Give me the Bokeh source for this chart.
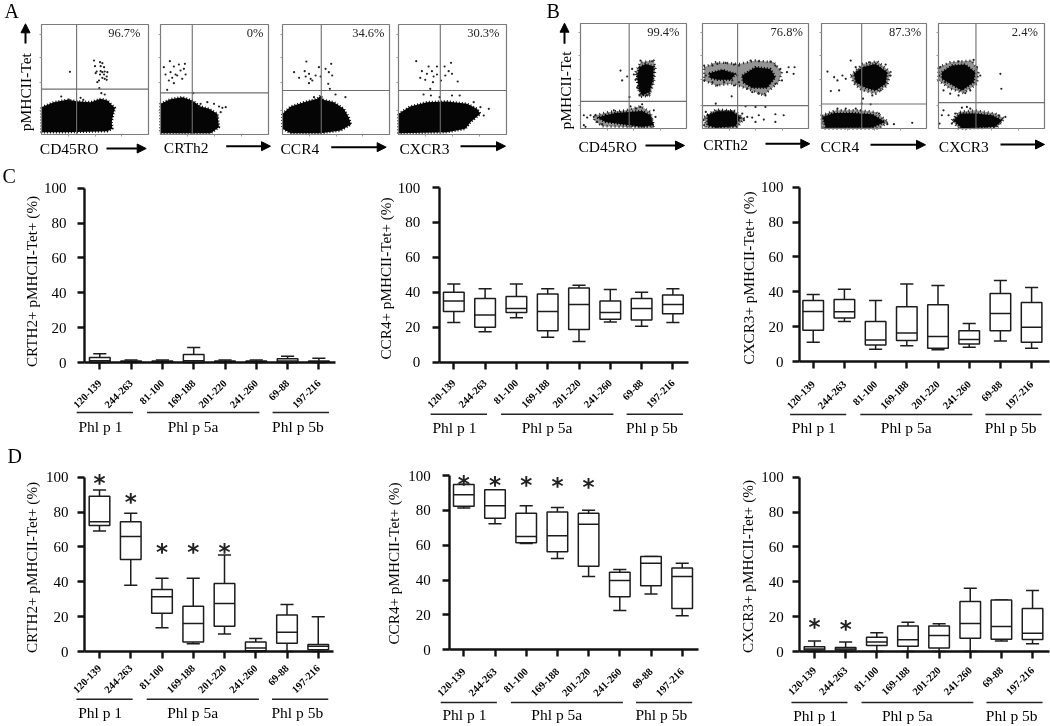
from math import pi
from bokeh.embed import file_html
from bokeh.resources import INLINE
from bokeh.core.properties import value
from bokeh.models import Column, Row, Arrow, NormalHead, FixedTicker, Range1d
from bokeh.plotting import figure

SERIF = "Liberation Serif"
BLUR = {"filter": "blur(0.45px)"}

# ---------- box-plot data: (low, q1, median, q3, high) per peptide ----------
peptides = ["120-139", "244-263", "81-100", "169-188", "201-220", "241-260", "69-88", "197-216"]
groups = ["Phl p 1", "Phl p 5a", "Phl p 5b"]

c_crth2_low = [0, 0, 0, 0, 0, 0, 0, 0]
c_crth2_q1 = [0, 0.2, 0.2, 0, 0.2, 0.2, 0, 0.1]
c_crth2_med = [1, 0.5, 0.5, 1, 0.5, 0.5, 0.8, 0.4]
c_crth2_q3 = [2.9, 0.8, 0.8, 4.6, 0.8, 0.8, 2.2, 0.8]
c_crth2_high = [5, 1.5, 1.5, 8.6, 1.5, 1.5, 3.6, 2.5]

c_ccr4_low = [22.7, 17.4, 25.4, 14.3, 11.8, 23, 20.6, 22.7]
c_ccr4_q1 = [29, 20, 28.4, 18, 18.7, 24.6, 24.2, 27.7]
c_ccr4_med = [35, 27, 30.7, 29, 33, 28.4, 30.7, 33]
c_ccr4_q3 = [40, 36.5, 37.6, 39, 42.5, 35, 36.5, 38.5]
c_ccr4_high = [44.7, 42, 44.7, 42, 44, 41.6, 40, 42]

c_cxcr3_low = [11, 23, 7, 9, 6.7, 8.2, 11.7, 7.6]
c_cxcr3_q1 = [18, 25, 9.4, 12, 7.6, 10, 17.6, 11]
c_cxcr3_med = [28.7, 28.5, 12.4, 16.3, 14.3, 12.6, 27.5, 19.7]
c_cxcr3_q3 = [35, 35.6, 23, 31.4, 32.5, 17.6, 39, 33.8]
c_cxcr3_high = [38.4, 41.5, 35, 44.5, 43.6, 21.8, 46.5, 42.4]

d_crth2_low = [69.2, 38, 13.6, 4.4, 10, 0, 0, 0]
d_crth2_q1 = [72.3, 52.8, 22, 5.4, 14.5, 0.4, 4.8, 1]
d_crth2_med = [74.4, 66, 31.4, 16, 27.5, 2, 11, 3]
d_crth2_q3 = [89, 74.4, 35.6, 26, 39, 5.4, 21, 4]
d_crth2_high = [92.7, 79.3, 42, 42, 55.4, 7.5, 27, 20]

d_ccr4_low = [81.3, 72.3, 61, 52.4, 42, 22.6, 32, 19.5]
d_ccr4_q1 = [82.4, 75.5, 61.4, 56.2, 48, 30.4, 36.7, 23.7]
d_ccr4_med = [89, 82.6, 65, 65.4, 72, 39.8, 49.7, 42]
d_ccr4_q3 = [94.8, 91.8, 78.4, 79, 78.4, 44.5, 53.5, 47]
d_ccr4_high = [95, 91.8, 82.6, 81.6, 80, 46, 53.5, 49.7]

d_cxcr3_low = [0, 0, 0, 0, 0, 0, 6, 4.4]
d_cxcr3_q1 = [0.8, 0.8, 3.4, 3, 2, 7.6, 7, 6.9]
d_cxcr3_med = [1.5, 1.5, 5.5, 6.7, 9.2, 16, 14.3, 10.5]
d_cxcr3_q3 = [2.7, 2.3, 8.2, 14.7, 14.7, 28.7, 29.6, 24.7]
d_cxcr3_high = [6, 5.5, 10.7, 16.8, 15.9, 36.3, 29.6, 35]

d_crth2_star_x = [0, 1, 2, 3, 4]
d_crth2_star_y = [99.6, 88.5, 59.8, 59.8, 60]
d_ccr4_star_x = [0, 1, 2, 3, 4]
d_ccr4_star_y = [98, 97.5, 97.5, 97, 96]
d_cxcr3_star_x = [0, 1]
d_cxcr3_star_y = [16.8, 16]

# ---------- flow cytometry data (channels): sparse events, dense regions, speckled halos ----------
a1_x = [157,175,182,177,160,187,165,177,182,189,197,162,175,187,195,182,189,172,195,167,85,173,179,189,117,125,59,82]
a1_y = [222,217,214,205,205,202,189,190,187,189,187,184,180,180,174,170,167,162,164,157,188,139,124,120,110,104,114,105]
a1_blob_x = [0,37,77,112,147,177,197,212,220,215,210,212,197,77,0]
a1_blob_y = [82,97,104,99,97,107,102,87,80,62,37,17,10,7,7]

a2_x = [28,10,40,55,73,30,45,60,70,15,35,50,75,65,25,40,20,98,185,195,175,160,140,120,180,170]
a2_y = [220,202,204,210,212,187,180,192,197,180,170,177,180,167,162,154,134,124,80,82,84,92,97,92,67,52]
a2_blob_x = [0,30,65,95,120,145,170,175,150,0]
a2_blob_y = [92,106,112,102,84,77,62,22,4,4]

a3_x = [72,35,67,80,110,147,130,140,150,70,85,100,115,80,90,138,143,160,190,95,50]
a3_y = [219,187,190,182,202,212,197,187,177,174,167,177,174,154,162,152,137,120,112,112,170]
a3_blob_x = [0,25,65,105,115,123,155,185,200,207,175,115,25,0]
a3_blob_y = [62,84,97,107,117,104,97,77,52,30,12,4,4,17]

a4_x = [53,157,90,115,138,70,100,150,85,115,160,65,80,105,140,103,127,177,95,75,97,123,160,183,245,270,225,255]
a4_y = [220,215,204,204,204,190,190,190,182,180,182,170,164,174,177,157,162,159,137,120,117,112,117,117,82,77,97,57]
a4_blob_x = [0,35,85,145,205,235,245,215,200,145,0]
a4_blob_y = [62,84,97,99,92,77,62,37,17,7,4]

b1_x = [120,155,160,180,215,125,140,165,170,177,200,207,147,150,180,185,167,100,10,20,30,40,10,15,50,65,225,220]
b1_y = [175,180,163,205,203,145,157,147,123,100,100,105,95,67,65,73,60,55,40,33,40,35,10,5,20,13,35,55]
b1_up_x = [177,195,220,217,207,185,175,170]
b1_up_y = [185,195,187,145,110,100,120,160]
b1_low_x = [75,105,145,185,210,220,185,125,75,50]
b1_low_y = [40,47,50,53,40,10,5,13,20,33]
b1_hu_x = [165,180,220,225,220,207,180,173]
b1_hu_y = [170,200,205,185,140,100,95,123]
b1_hl_x = [45,85,135,180,210,220,65,40]
b1_hl_y = [40,50,55,67,50,2,7,25]

b2_x = [5,10,5,30,45,70,95,110,145,170,205,220,235,260,278,255,275,240,220,30,45,65,90,105,110,95,135,170,190,150,88,40,130,160,190,120,135,150,170,185,160,220,245,220,3,5,125,10]
b2_y = [190,160,145,190,195,198,193,190,205,203,202,190,180,185,185,170,165,145,135,140,130,140,145,160,140,130,120,105,100,110,97,75,67,65,65,45,35,33,40,27,20,43,40,20,25,10,25,50]
b2_right_x = [120,160,205,220,195,150,122]
b2_right_y = [160,185,180,155,123,123,140]
b2_left_x = [20,60,100,85,45,22]
b2_left_y = [167,177,165,147,147,153]
b2_low_x = [15,45,90,115,100,40,15]
b2_low_y = [40,52,52,33,7,2,10]
b2_hu_x = [5,40,110,160,215,240,230,185,135,90,40,5]
b2_hu_y = [185,200,195,205,200,170,140,100,120,135,130,145]
b2_hl_x = [5,40,95,125,105,10]
b2_hl_y = [35,57,55,30,3,2]

b3_x = [88,18,38,48,63,73,53,28,103,143,193,208,178,153,125,121,148,118,103,73,48,198,218,273,173]
b3_y = [205,172,155,145,160,150,115,113,185,200,193,160,115,100,90,75,73,55,60,60,60,13,13,17,45]
b3_up_x = [98,123,163,198,193,163,133,103]
b3_up_y = [165,185,195,170,135,115,123,140]
b3_low_x = [3,38,93,153,191,153,13]
b3_low_y = [35,47,47,43,20,3,2]
b3_hu_x = [88,123,168,208,198,163,123,98]
b3_hu_y = [160,195,203,170,130,105,115,135]
b3_hl_x = [0,43,113,163,201,173,3]
b3_hl_y = [40,55,55,50,20,0,0]

b4_x = [5,2,20,15,35,60,80,95,105,60,115,125,185,188,15,10,30,3,85,70,95,50,200,180,40]
b4_y = [185,160,140,115,105,100,107,115,207,203,185,160,165,120,55,40,40,15,65,63,60,45,35,40,15]
b4_up_x = [10,40,80,110,105,70,35,10]
b4_up_y = [170,190,193,170,140,115,135,150]
b4_low_x = [45,65,110,160,190,170,70]
b4_low_y = [25,45,45,40,25,5,1]
b4_hu_x = [0,35,100,120,115,75,35,0]
b4_hu_y = [185,200,205,170,135,107,120,145]
b4_hl_x = [40,60,110,170,197,175,60]
b4_hl_y = [25,50,55,45,30,3,0]


def txt(p, x, y, s, size, align="left", angle=0, color="#000000", font=SERIF, **kw):
    p.text(x, y, text=s, text_font=value(font), text_font_size=size, text_color=color, text_align=align,
           text_baseline="middle", angle=angle, **kw)


def flow(region, frame_x, frame_y, w, h, gate_x, gate_y, ev_x, ev_y, blobs, xlabel, lab_xy, arrow, pct, pct_xy,
         ylab=None, letter=None, halos=()):
    rl, rr = region
    fl, fr = frame_x
    ft, fb = frame_y
    X = lambda px: (px - fl) / (fr - fl) * w
    Y = lambda py: (fb - py) / (fb - ft) * h
    p = figure(width=rr - rl, height=165, x_range=Range1d(X(rl), X(rr)), y_range=Range1d(Y(165), Y(0)),
               toolbar_location=None, output_backend="svg", min_border=0,
               min_border_left=0, min_border_right=0, min_border_top=0, min_border_bottom=0,
               background_fill_color="white", border_fill_color="white", styles=BLUR)
    p.grid.visible = False
    p.outline_line_color = None
    xt = [w * f for f in (0.25, 0.5, 0.75)]
    yt = [h * f for f in (0.22, 0.47, 0.7, 0.91)]
    xa = p.xaxis[0]
    ya = p.yaxis[0]
    xa.fixed_location = 0
    ya.fixed_location = 0
    xa.bounds = (0, w)
    ya.bounds = (0, h)
    xa.ticker = FixedTicker(ticks=xt)
    ya.ticker = FixedTicker(ticks=yt)
    xa.major_label_text_color = None
    ya.major_label_text_color = None
    xa.major_label_text_font_size = "1px"
    ya.major_label_text_font_size = "1px"
    for ax in (xa, ya):
        ax.axis_line_color = None
        ax.major_tick_line_color = "#9a9a9a"
        ax.major_tick_in = 0
        ax.major_tick_out = 2
        ax.minor_tick_line_color = None
    for hx, hy in halos:
        p.patch(hx, hy, fill_color="#3a3a3a", fill_alpha=0.55, line_color="#222222", line_width=2.5, line_dash="1 3")
    for bx, by in blobs:
        p.patch(bx, by, fill_color="#050505", line_color="#050505", line_width=2.5, line_dash="1 2")
    p.scatter(ev_x, ev_y, size=2.2, marker="circle", fill_color="#222222", line_color=None)
    p.quad(left=[0], right=[w], bottom=[0], top=[h], fill_color=None, line_color="#7a7a7a", line_width=1.2)
    p.segment([gate_x, 0], [0, gate_y], [gate_x, w], [h, gate_y], line_color="#6e6e6e", line_width=1.1)
    txt(p, [X(lab_xy[0])], [Y(lab_xy[1])], [xlabel], "15.5px")
    p.add_layout(Arrow(end=NormalHead(size=9, fill_color="#000000", line_color="#000000"),
                       x_start=X(arrow[0]), y_start=Y(arrow[2]), x_end=X(arrow[1]), y_end=Y(arrow[2]),
                       line_color="#000000", line_width=2))
    txt(p, [X(pct_xy[0])], [Y(pct_xy[1])], [pct], "12.5px", align="right", color="#222222")
    if ylab:
        lx, lyc, ax_, ay0, ay1 = ylab
        txt(p, [X(lx)], [Y(lyc)], ["pMHCII-Tet"], "15.5px", align="center", angle=pi / 2)
        p.add_layout(Arrow(end=NormalHead(size=9, fill_color="#000000", line_color="#000000"),
                           x_start=X(ax_), y_start=Y(ay0), x_end=X(ax_), y_end=Y(ay1),
                           line_color="#000000", line_width=2))
    if letter:
        txt(p, [X(letter[1])], [Y(letter[2])], [letter[0]], "20px")
    return p


def box(region_x, region_y, x0, dx, y0, y100, axis_x, x_right, low, q1, med, q3, high, title, title_xy,
        line_dy, lab_dy, standoff, ystand, stars=None, letter=None):
    rl, rr = region_x
    rt, rb = region_y
    k = (y0 - y100) / 100
    X = lambda px: (px - x0) / dx
    Y = lambda py: (y0 - py) / k
    p = figure(width=rr - rl, height=rb - rt, x_range=Range1d(X(rl), X(rr)), y_range=Range1d(Y(rb), Y(rt)),
               toolbar_location=None, output_backend="svg", min_border=0,
               min_border_left=0, min_border_right=0, min_border_top=0, min_border_bottom=0,
               background_fill_color="white", border_fill_color="white", styles=BLUR)
    p.outline_line_color = None
    p.grid.visible = False
    xs = list(range(len(peptides)))
    lw = 1.5
    col = "#1c1c1c"
    cap = 0.21
    half = 0.33
    p.segment(xs, low, xs, q1, line_color=col, line_width=lw)
    p.segment(xs, q3, xs, high, line_color=col, line_width=lw)
    p.segment([x - cap for x in xs], low, [x + cap for x in xs], low, line_color=col, line_width=lw)
    p.segment([x - cap for x in xs], high, [x + cap for x in xs], high, line_color=col, line_width=lw)
    p.quad(left=[x - half for x in xs], right=[x + half for x in xs], bottom=q1, top=q3,
           fill_color="white", line_color=col, line_width=lw)
    p.segment([x - half for x in xs], med, [x + half for x in xs], med, line_color=col, line_width=lw)

    xa = p.xaxis[0]
    ya = p.yaxis[0]
    xa.fixed_location = 0
    ya.fixed_location = X(axis_x)
    xa.bounds = (X(axis_x), X(x_right))
    ya.bounds = (0, 100)
    xa.ticker = FixedTicker(ticks=xs)
    ya.ticker = FixedTicker(ticks=[0, 20, 40, 60, 80, 100])
    xa.major_label_overrides = {i: s for i, s in enumerate(peptides)}
    xa.major_label_orientation = pi / 4
    xa.major_label_text_font = SERIF
    xa.major_label_text_font_style = "bold"
    xa.major_label_text_font_size = "10.5px"
    xa.major_label_text_color = "#000000"
    xa.major_label_standoff = standoff
    ya.major_label_text_font = SERIF
    ya.major_label_text_font_size = "15px"
    ya.major_label_text_color = "#000000"
    ya.major_label_standoff = ystand
    for ax in (xa, ya):
        ax.axis_line_color = "#111111"
        ax.axis_line_width = 2.4
        ax.major_tick_line_color = "#111111"
        ax.major_tick_line_width = 2.4
        ax.major_tick_in = 0
        ax.major_tick_out = 7
        ax.minor_tick_line_color = None

    txt(p, [X(title_xy[0])], [Y(title_xy[1])], [title], "15.2px", align="center", angle=pi / 2)
    g0 = [-0.74, 1.51, 5.52]
    g1 = [1.06, 5.10, 7.32]
    gc = [0.02, 2.98, 6.33]
    yl = Y(y0 + line_dy)
    p.segment(g0, [yl] * 3, g1, [yl] * 3, line_color="#222222", line_width=1.6)
    txt(p, gc, [Y(y0 + lab_dy)] * 3, groups, "15.5px", align="center")
    if stars:
        txt(p, stars[0], stars[1], ["*"] * len(stars[0]), "23px", align="center", color="#222222",
            font="DejaVu Sans", y_offset=5, text_font_style="bold")
    if letter:
        txt(p, [X(letter[1])], [Y(letter[2])], [letter[0]], "20px")
    return p


top = Row(spacing=0, children=[
    flow((0, 154), (41, 148), (24, 134), 320, 330, 105, 136, a1_x, a1_y, [(a1_blob_x, a1_blob_y)], "CD45RO",
         (39.3, 148), (106, 145.7, 148), "96.7%", (140, 32.7), ylab=(25, 91.7, 25, 43, 23.3), letter=("A", 4, 10)),
    flow((154, 275), (160, 268), (24, 134), 323, 330, 95, 125, a2_x, a2_y, [(a2_blob_x, a2_blob_y)], "CRTh2",
         (163.3, 146.7), (225.7, 270, 145.7), "0%", (263, 32.7)),
    flow((275, 394), (282, 389), (24, 134), 323, 330, 117, 132, a3_x, a3_y, [(a3_blob_x, a3_blob_y)], "CCR4",
         (280, 147.7), (330.7, 385.7, 146.7), "34.6%", (384, 32.7)),
    flow((394, 514), (398, 506), (24, 134), 323, 330, 125, 132, a4_x, a4_y, [(a4_blob_x, a4_blob_y)], "CXCR3",
         (399, 147.7), (460, 505, 145.7), "30.3%", (499, 32.7)),
    flow((514, 694), (580, 686), (23, 128), 318, 317, 146, 82, b1_x, b1_y, [(b1_up_x, b1_up_y), (b1_low_x, b1_low_y)],
         "CD45RO", (578, 145.7), (645, 684, 145), "99.4%", (679, 31), ylab=(565, 90, 564, 43.3, 22.7),
         letter=("B", 546, 10), halos=[(b1_hu_x, b1_hu_y), (b1_hl_x, b1_hl_y)]),
    flow((694, 814), (702, 808), (23, 128), 320, 317, 106, 69, b2_x, b2_y,
         [(b2_right_x, b2_right_y), (b2_left_x, b2_left_y), (b2_low_x, b2_low_y)],
         "CRTh2", (702.7, 144.3), (765, 809.3, 143.3), "76.8%", (802.3, 31), halos=[(b2_hu_x, b2_hu_y), (b2_hl_x, b2_hl_y)]),
    flow((814, 932), (821, 926), (23, 128), 316, 317, 121, 74, b3_x, b3_y, [(b3_up_x, b3_up_y), (b3_low_x, b3_low_y)],
         "CCR4", (820, 146), (870, 925, 144.3), "87.3%", (920.7, 31), halos=[(b3_hu_x, b3_hu_y), (b3_hl_x, b3_hl_y)]),
    flow((932, 1050), (938, 1044), (23, 128), 317, 317, 112, 78, b4_x, b4_y, [(b4_up_x, b4_up_y), (b4_low_x, b4_low_y)],
         "CXCR3", (938.3, 146), (1000, 1044, 144), "2.4%", (1037.3, 31), halos=[(b4_hu_x, b4_hu_y), (b4_hl_x, b4_hl_y)]),
])

mid = Row(spacing=0, children=[
    box((0, 350), (165, 445), 99.3, 31.3, 362, 187.7, 84, 335, c_crth2_low, c_crth2_q1, c_crth2_med, c_crth2_q3,
        c_crth2_high, "CRTH2+ pMHCII-Tet+ (%)", (31, 281), 50, 64, 12, 11, letter=("C", 2, 175)),
    box((350, 700), (165, 445), 453.3, 31.3, 361.7, 187, 438.7, 688, c_ccr4_low, c_ccr4_q1, c_ccr4_med, c_ccr4_q3,
        c_ccr4_high, "CCR4+ pMHCII-Tet+ (%)", (385, 278), 52, 65, 12, 12),
    box((700, 1050), (165, 445), 812.7, 31.2, 361, 186.7, 799, 1049, c_cxcr3_low, c_cxcr3_q1, c_cxcr3_med, c_cxcr3_q3,
        c_cxcr3_high, "CXCR3+ pMHCII-Tet+ (%)", (748, 277.5), 53, 66, 14, 9),
])

bot = Row(spacing=0, children=[
    box((0, 350), (445, 726), 99, 31.25, 651, 476.7, 84, 333, d_crth2_low, d_crth2_q1, d_crth2_med, d_crth2_q3,
        d_crth2_high, "CRTH2+ pMHCII-Tet+ (%)", (31, 567), 47.7, 60.7, 8, 9,
        stars=(d_crth2_star_x, d_crth2_star_y), letter=("D", 7, 455)),
    box((350, 700), (445, 726), 463.3, 31.2, 649.3, 475, 449.3, 698, d_ccr4_low, d_ccr4_q1, d_ccr4_med, d_ccr4_q3,
        d_ccr4_high, "CCR4+ pMHCII-Tet+ (%)", (393, 563), 52.7, 65, 13, 12,
        stars=(d_ccr4_star_x, d_ccr4_star_y)),
    box((700, 1050), (445, 726), 814, 31.15, 651, 476.7, 799.3, 1049, d_cxcr3_low, d_cxcr3_q1, d_cxcr3_med, d_cxcr3_q3,
        d_cxcr3_high, "CXCR3+ pMHCII-Tet+ (%)", (747, 566), 51, 64, 10, 9,
        stars=(d_cxcr3_star_x, d_cxcr3_star_y)),
])

page = Column(children=[top, mid, bot], spacing=0)
open("out.html", "w").write(file_html(page, INLINE))
